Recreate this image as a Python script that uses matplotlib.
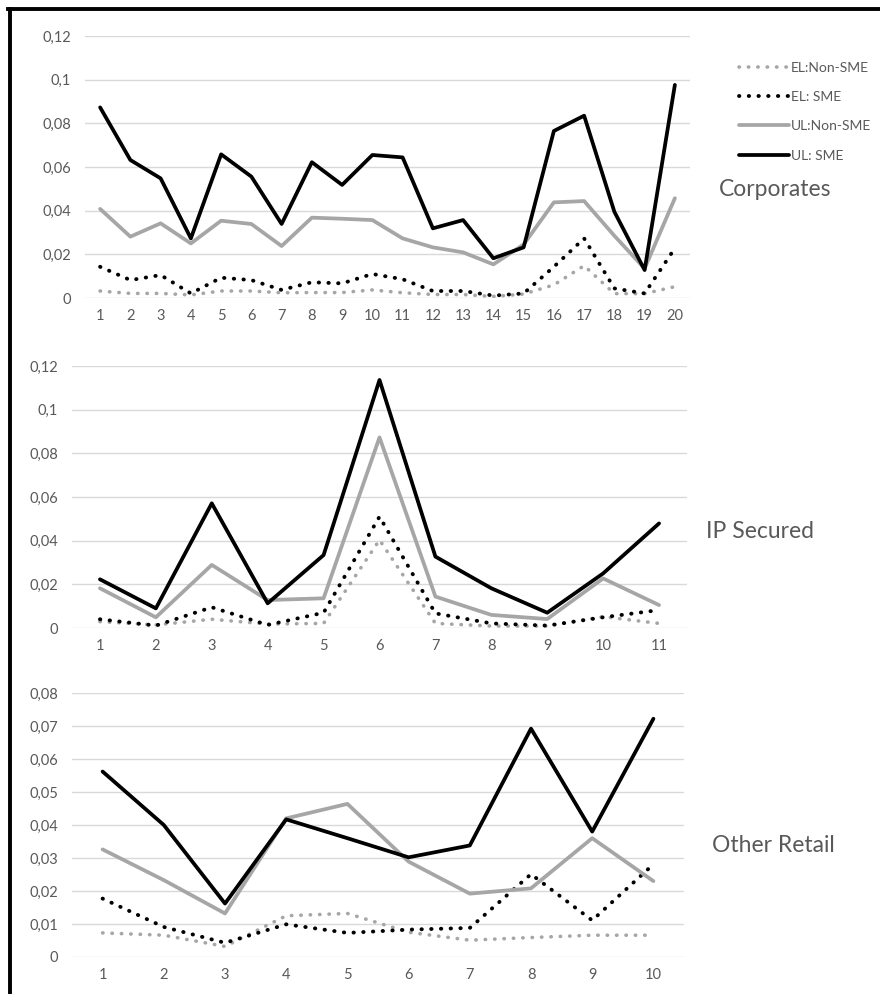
import numpy as np
import matplotlib
matplotlib.use("Agg")
import matplotlib.pyplot as plt
from matplotlib.lines import Line2D
from matplotlib.ticker import FuncFormatter, MultipleLocator

plt.rcParams['font.family'] = ['Lato', 'DejaVu Sans']

series_names = ['EL:Non-SME', 'EL: SME', 'UL:Non-SME', 'UL: SME']

# Corporates (20 buckets)
corp_el_nonsme = [0.0032, 0.0021, 0.0021, 0.0014, 0.0032, 0.0032, 0.0024, 0.0025, 0.0025, 0.0037,
                  0.0024, 0.0016, 0.0016, 0.0007, 0.0018, 0.0060, 0.0148, 0.0020, 0.0020, 0.0052]
corp_el_sme = [0.0143, 0.0082, 0.0105, 0.0021, 0.0093, 0.0082, 0.0037, 0.0072, 0.0067, 0.0110,
               0.0086, 0.0032, 0.0032, 0.0011, 0.0021, 0.0143, 0.0273, 0.0044, 0.0021, 0.0228]
corp_ul_nonsme = [0.0408, 0.0281, 0.0342, 0.0250, 0.0354, 0.0339, 0.0238, 0.0368, 0.0363, 0.0357,
                  0.0273, 0.0232, 0.0209, 0.0154, 0.0245, 0.0438, 0.0444, 0.0285, 0.0135, 0.0457]
corp_ul_sme = [0.0873, 0.0632, 0.0548, 0.0273, 0.0658, 0.0556, 0.0339, 0.0622, 0.0518, 0.0655,
               0.0644, 0.0319, 0.0357, 0.0182, 0.0232, 0.0765, 0.0835, 0.0395, 0.0128, 0.0976]

# IP Secured (11 buckets)
ips_el_nonsme = [0.0029, 0.0014, 0.0040, 0.0018, 0.0021, 0.0403, 0.0021, 0.0009, 0.0009, 0.0052, 0.0021]
ips_el_sme = [0.0040, 0.0011, 0.0095, 0.0014, 0.0070, 0.0510, 0.0067, 0.0021, 0.0011, 0.0049, 0.0082]
ips_ul_nonsme = [0.0182, 0.0049, 0.0289, 0.0128, 0.0136, 0.0873, 0.0144, 0.0060, 0.0041, 0.0227, 0.0105]
ips_ul_sme = [0.0223, 0.0090, 0.0571, 0.0113, 0.0334, 0.1136, 0.0327, 0.0182, 0.0070, 0.0250, 0.0479]

# Other Retail (10 buckets)
oth_el_nonsme = [0.0073, 0.0066, 0.0032, 0.0125, 0.0132, 0.0075, 0.0051, 0.0059, 0.0066, 0.0066]
oth_el_sme = [0.0177, 0.0091, 0.0043, 0.0099, 0.0073, 0.0083, 0.0088, 0.0251, 0.0111, 0.0281]
oth_ul_nonsme = [0.0326, 0.0233, 0.0132, 0.0420, 0.0464, 0.0289, 0.0192, 0.0208, 0.0360, 0.0230]
oth_ul_sme = [0.0562, 0.0400, 0.0162, 0.0417, 0.0360, 0.0302, 0.0338, 0.0692, 0.0380, 0.0722]

panels = [
    ('Corporates', [corp_el_nonsme, corp_el_sme, corp_ul_nonsme, corp_ul_sme], 0.12),
    ('IP Secured', [ips_el_nonsme, ips_el_sme, ips_ul_nonsme, ips_ul_sme], 0.12),
    ('Other Retail', [oth_el_nonsme, oth_el_sme, oth_ul_nonsme, oth_ul_sme], 0.08),
]

W, H = 880, 994
# axes boxes in pixels: left, top, right, bottom
boxes = [(85, 36, 690, 298), (72, 366, 687, 628), (72, 693, 684, 957)]
label_pos = [(719, 189), (706, 532), (712, 845)]

gray = '#a6a6a6'
text_gray = '#595959'
styles = [
    dict(color=gray, lw=2.6, linestyle=(0, (0.1, 2.5)), dash_capstyle='round'),
    dict(color='black', lw=2.8, linestyle=(0, (0.1, 2.4)), dash_capstyle='round'),
    dict(color=gray, lw=2.7, solid_capstyle='round'),
    dict(color='black', lw=2.7, solid_capstyle='round'),
]

comma_fmt = FuncFormatter(lambda v, pos: ('%g' % round(v, 4)).replace('.', ','))

fig = plt.figure(figsize=(W / 100, H / 100), dpi=100)

for (title, data, ymax), (l, t, r, b), (tx, ty) in zip(panels, boxes, label_pos):
    ax = fig.add_axes([l / W, 1 - b / H, (r - l) / W, (b - t) / H])
    n = len(data[0])
    x = np.arange(1, n + 1)
    for values, style, name in zip(data, styles, series_names):
        ax.plot(x, values, label=name, **style)
    ax.set_xlim(0.5, n + 0.5)
    ax.set_ylim(0, ymax)
    ax.set_xticks(x)
    ax.yaxis.set_major_locator(MultipleLocator(0.02 if ymax > 0.1 else 0.01))
    ax.yaxis.set_major_formatter(comma_fmt)
    ax.grid(axis='y', color='#d9d9d9', lw=1)
    ax.set_axisbelow(True)
    for s in ax.spines.values():
        s.set_visible(False)
    ax.tick_params(length=0, labelsize=10.5, labelcolor=text_gray)
    ax.tick_params(axis='y', pad=10)
    ax.tick_params(axis='x', pad=8)
    fig.text(tx / W, 1 - ty / H, title, fontsize=16.5, color=text_gray, va='center', ha='left')
    if title == 'Corporates':
        handles, labels = ax.get_legend_handles_labels()

fig.legend(handles, labels, loc='upper left', bbox_to_anchor=(726 / W, 1 - 49 / H),
           frameon=False, fontsize=10, handlelength=3.6, handletextpad=0.15,
           labelspacing=1.25, labelcolor=text_gray)

# outer frame (top and left edges only)
fig.add_artist(Line2D([8 / W, 1], [1 - 9 / H, 1 - 9 / H], color='black', lw=2.8, transform=fig.transFigure))
fig.add_artist(Line2D([10 / W, 10 / W], [0, 1 - 9 / H], color='black', lw=2.8, transform=fig.transFigure))

fig.savefig('out.png', dpi=100)
